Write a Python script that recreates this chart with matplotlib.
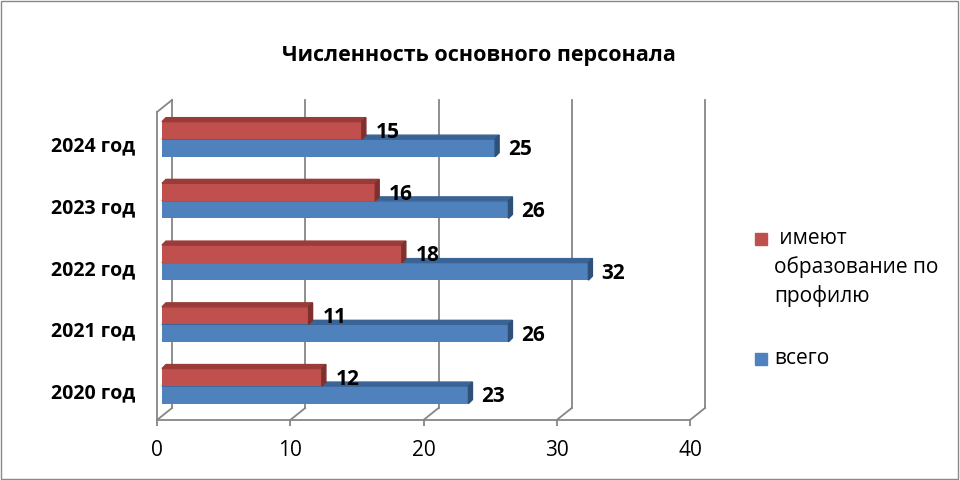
import numpy as np
import matplotlib.pyplot as plt
from matplotlib.patches import Polygon, Rectangle
from matplotlib.transforms import ScaledTranslation

plt.rcParams['font.family'] = ['Open Sans', 'DejaVu Sans']

years = ['2020 год', '2021 год', '2022 год', '2023 год', '2024 год']
total = [23, 26, 32, 26, 25]
profile = [12, 11, 18, 16, 15]
series = ['имеют образование по профилю', 'всего']
xticks = [0, 10, 20, 30, 40]

title = 'Численность основного персонала'

red, red_top, red_side = '#C0504D', '#9A3B39', '#7F302E'
blue, blue_top, blue_side = '#4F81BD', '#3B6496', '#2E5079'
grid = '#868686'

fig = plt.figure(figsize=(9.6, 4.8), dpi=100)
# axes = front plane of the 3d box
ax = fig.add_axes([157/960, 1 - 420/480, 533/960, 308/480])
ax.set_xlim(0, 40)
ax.set_ylim(-0.55, 4.44)

# pixel -> data units
xu = 40 / 533
yu = (4.44 + 0.55) / 308

wdx, wdy = 15 * xu, 12 * yu      # wall depth
bdx, bdy = 4 * xu, 4 * yu        # bar depth
x0 = 5 * xu                      # bars start a little behind front
h = 17.5 * yu

ymin, ymax = ax.get_ylim()

# back wall gridlines + floor lines
for v in xticks:
    ax.plot([v + wdx, v + wdx], [ymin + wdy, ymax + wdy], color=grid, lw=1.3,
            zorder=0, clip_on=False)
    ax.plot([v, v + wdx], [ymin, ymin + wdy], color=grid, lw=1.3,
            zorder=0, clip_on=False)
# left wall
ax.plot([0, wdx], [ymax, ymax + wdy], color=grid, lw=1.3, zorder=0, clip_on=False)

y = np.arange(len(years))


def bars(vals, bottoms, c_front, c_top, c_side, gap):
    ax.barh(bottoms + h / 2, vals, height=h, left=x0, color=c_front, zorder=2)
    for v, b in zip(vals, bottoms):
        L, R, B, T = x0, x0 + v, b, b + h
        ax.add_patch(Polygon([(L, T), (R, T), (R + bdx, T + bdy), (L + bdx, T + bdy)],
                             closed=True, color=c_top, zorder=2, clip_on=False))
        ax.add_patch(Polygon([(R, B), (R, T), (R + bdx, T + bdy), (R + bdx, B + bdy)],
                             closed=True, color=c_side, zorder=2, clip_on=False))
        ax.text(R + bdx + gap * xu, b + h / 2 - 2 * yu, str(v), ha='left', va='center',
                fontsize=15, fontweight='bold', zorder=3)


bars(total, y - h, blue, blue_top, blue_side, 9)
bars(profile, y.astype(float), red, red_top, red_side, 10)

for s in ['top', 'right']:
    ax.spines[s].set_visible(False)
for s in ['bottom', 'left']:
    ax.spines[s].set_color(grid)
    ax.spines[s].set_linewidth(1.3)

ax.set_xticks(xticks)
ax.set_xticklabels([str(t) for t in xticks], fontsize=15)
ax.tick_params(axis='x', length=4.5, width=1.3, color=grid, pad=10)
ax.set_yticks(y)
ax.set_yticklabels(years, fontsize=14, fontweight='bold')
ax.tick_params(axis='y', length=0, pad=16)
for lbl in ax.get_yticklabels():
    lbl.set_transform(lbl.get_transform() + ScaledTranslation(0, -5/100, fig.dpi_scale_trans))

fig.text(479/960, 1 - 61/480, title, ha='center', va='baseline',
         fontsize=15.5, fontweight='bold')

# legend
fig.patches.append(Rectangle((755/960, 1 - 245/480), 12/960, 12/480, color=red,
                             transform=fig.transFigure))
fig.patches.append(Rectangle((755/960, 1 - 365/480), 12/960, 12/480, color=blue,
                             transform=fig.transFigure))
lines = [' имеют', 'образование по', 'профилю']
for i, t in enumerate(lines):
    fig.text(774/960, 1 - (239 + 28.5 * i)/480, t, ha='left', va='center', fontsize=15)
fig.text(774/960, 1 - 358/480, series[1], ha='left', va='center', fontsize=15)

fig.patches.append(Rectangle((0.001, 0.002), 0.997, 0.995, fill=False,
                             edgecolor='#898989', lw=1, transform=fig.transFigure))

fig.savefig('out.png', dpi=100)
